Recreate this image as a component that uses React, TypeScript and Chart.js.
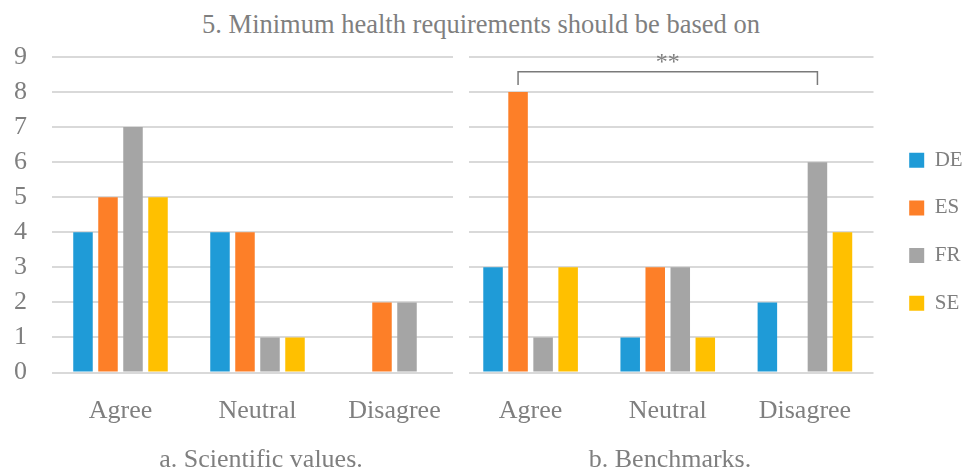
import React, { useEffect, useRef } from 'react';
import { Chart, registerables } from 'chart.js';

Chart.register(...registerables);

// ---- data ----
const categories = ['Agree', 'Neutral', 'Disagree'];
const seriesNames = ['DE', 'ES', 'FR', 'SE'];
const seriesColors = ['#1f9bd7', '#fd7f28', '#a5a5a5', '#ffc000'];

const scientificDE = [4, 4, 0];
const scientificES = [5, 4, 2];
const scientificFR = [7, 1, 2];
const scientificSE = [5, 1, 0];

const benchmarksDE = [3, 1, 2];
const benchmarksES = [8, 3, 0];
const benchmarksFR = [1, 3, 6];
const benchmarksSE = [3, 1, 4];

const yMin = 0;
const yMax = 9;
const yStep = 1;

const chartTitle = '5. Minimum health requirements should be based on';
const panelTitles = ['a. Scientific values.', 'b. Benchmarks.'];

// significance bracket in panel b: from ES/Agree to FR/Disagree
const sigLabel = '**';
const sigFrom = { series: 1, category: 0 };
const sigTo = { series: 2, category: 2 };
const sigLevel = 8.58;
const sigLegEnd = 8.2;

// ---- style ----
const FONT = "'Liberation Serif', 'Times New Roman', serif";
const TEXT = '#7f7f7f';
const GRID = '#d9d9d9';
const AXIS_FONT = 26;

const bracketPlugin = {
  id: 'sigBracket',
  afterDatasetsDraw(chart: any) {
    const y = chart.scales.y;
    const x1 = chart.getDatasetMeta(sigFrom.series).data[sigFrom.category].x;
    const x2 = chart.getDatasetMeta(sigTo.series).data[sigTo.category].x;
    const yTop = y.getPixelForValue(sigLevel);
    const yLeg = y.getPixelForValue(sigLegEnd);
    const ctx = chart.ctx;
    ctx.save();
    ctx.strokeStyle = '#7a7a7a';
    ctx.lineWidth = 1.5;
    ctx.beginPath();
    ctx.moveTo(x1, yLeg);
    ctx.lineTo(x1, yTop);
    ctx.lineTo(x2, yTop);
    ctx.lineTo(x2, yLeg);
    ctx.stroke();
    ctx.fillStyle = TEXT;
    ctx.font = `24px ${FONT}`;
    ctx.textAlign = 'center';
    ctx.textBaseline = 'alphabetic';
    ctx.fillText(sigLabel, (x1 + x2) / 2, yTop - 3);
    ctx.restore();
  },
};

// trims the gridlines at one edge of the plot area, leaving the gap between the two panels
function gridGapPlugin(side: 'left' | 'right', trim: number) {
  return {
    id: 'gridGap',
    beforeDatasetsDraw(chart: any) {
      const { ctx, chartArea } = chart;
      ctx.save();
      ctx.fillStyle = '#ffffff';
      const x = side === 'right' ? chartArea.right - trim : chartArea.left - 1;
      ctx.fillRect(x, chartArea.top - 3, trim + 1, chartArea.bottom - chartArea.top + 6);
      ctx.restore();
    },
  };
}

function makeDatasets(values: number[][]) {
  return seriesNames.map((name, i) => ({
    label: name,
    data: values[i],
    backgroundColor: seriesColors[i],
    borderWidth: 0,
    categoryPercentage: 0.73,
    barPercentage: 0.78,
  }));
}

function xScale() {
  return {
    grid: { display: false },
    border: { display: false },
    ticks: { color: TEXT, font: { family: FONT, size: AXIS_FONT }, padding: 15 },
    afterFit: (s: any) => {
      s.height = 108.5;
    },
  };
}

const subtitleStyle = (center: number): React.CSSProperties => ({
  position: 'absolute',
  left: center - 200,
  top: 444,
  width: 400,
  textAlign: 'center',
  fontFamily: FONT,
  fontSize: AXIS_FONT,
  lineHeight: '30px',
  color: TEXT,
  whiteSpace: 'nowrap',
});

export default function App() {
  const leftRef = useRef<HTMLCanvasElement>(null);
  const rightRef = useRef<HTMLCanvasElement>(null);

  useEffect(() => {
    const left = new Chart(leftRef.current as HTMLCanvasElement, {
      type: 'bar',
      data: {
        labels: categories,
        datasets: makeDatasets([scientificDE, scientificES, scientificFR, scientificSE]) as any,
      },
      options: {
        responsive: false,
        animation: false,
        layout: { padding: { top: 16, right: 7, left: 14, bottom: 0 } },
        plugins: { legend: { display: false }, tooltip: { enabled: false } },
        scales: {
          x: xScale() as any,
          y: {
            min: yMin,
            max: yMax,
            ticks: {
              stepSize: yStep,
              autoSkip: false,
              color: TEXT,
              font: { family: FONT, size: AXIS_FONT },
              padding: 0,
              crossAlign: 'far',
            },
            grid: { color: GRID, lineWidth: 2, drawTicks: false },
            border: { display: false },
            afterFit: (s: any) => {
              s.width = 38;
            },
          },
        },
      },
      plugins: [gridGapPlugin('right', 10)],
    });

    const right = new Chart(rightRef.current as HTMLCanvasElement, {
      type: 'bar',
      data: {
        labels: categories,
        datasets: makeDatasets([benchmarksDE, benchmarksES, benchmarksFR, benchmarksSE]) as any,
      },
      options: {
        responsive: false,
        animation: false,
        layout: { padding: { top: 16, right: 0, left: 0, bottom: 0 } },
        plugins: {
          tooltip: { enabled: false },
          legend: {
            position: 'right',
            fullSize: false,
            align: 'center',
            title: { display: true, text: '', font: { size: 10 }, padding: 11 },
            labels: {
              boxWidth: 15,
              boxHeight: 15,
              padding: 26.7,
              color: TEXT,
              font: { family: FONT, size: 21 },
            },
          },
        },
        scales: {
          x: xScale() as any,
          y: {
            min: yMin,
            max: yMax,
            ticks: { stepSize: yStep, display: false },
            grid: { color: GRID, lineWidth: 2, drawTicks: false },
            border: { display: false },
            afterFit: (s: any) => {
              s.width = 7;
            },
          },
          yR: {
            type: 'linear',
            position: 'right',
            display: true,
            grid: { display: false, drawTicks: false },
            ticks: { display: false },
            border: { display: false },
            afterFit: (s: any) => {
              s.width = 9;
            },
          },
        },
      },
      plugins: [gridGapPlugin('left', 7), bracketPlugin],
    });

    return () => {
      left.destroy();
      right.destroy();
    };
  }, []);

  return (
    <div
      style={{
        position: 'fixed',
        left: 0,
        top: 0,
        width: 965,
        height: 470,
        overflow: 'hidden',
        background: '#ffffff',
      }}
    >
      <div
        style={{
          position: 'absolute',
          left: 0,
          top: 9,
          width: 962,
          textAlign: 'center',
          fontFamily: FONT,
          fontSize: 26.5,
          lineHeight: '30px',
          color: TEXT,
          whiteSpace: 'nowrap',
        }}
      >
        {chartTitle}
      </div>
      <canvas
        ref={leftRef}
        width={470}
        height={440}
        style={{ position: 'absolute', left: 0, top: 41, width: 470, height: 440 }}
      />
      <canvas
        ref={rightRef}
        width={513}
        height={440}
        style={{ position: 'absolute', left: 455, top: 41, width: 513, height: 440 }}
      />
      <div style={subtitleStyle(261)}>{panelTitles[0]}</div>
      <div style={subtitleStyle(670)}>{panelTitles[1]}</div>
    </div>
  );
}
